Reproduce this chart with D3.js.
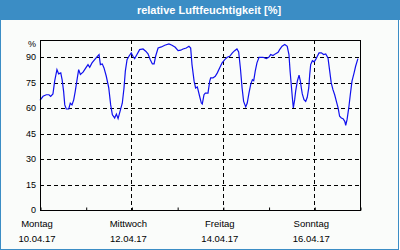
<!DOCTYPE html>
<html>
<head>
<meta charset="utf-8">
<script src="https://cdn.jsdelivr.net/npm/d3@7"></script>
<style>
  body { margin: 0; background: #fff; }
  svg { display: block; }
  text { font-family: "Liberation Sans", Arial, sans-serif; }
</style>
</head>
<body>
<div id="chart"></div>
<script>
// hours since Montag 10.04.17 00:00
var hours = [0, 1.6, 3.3, 4.7, 5.6, 6.8, 7.7, 8.9, 9.8, 10.9, 11.6, 12.4, 13.0, 13.8, 15.1, 15.9,
    16.8, 17.7, 18.5, 19.6, 20.3, 21.2, 22.6, 23.8, 25.2, 26.1, 27.3, 28.7, 29.9, 31.0, 31.7,
    32.7, 33.6, 34.8, 36.1, 37.1, 38.0, 39.2, 40.1, 41.0, 42.3, 43.2, 44.1, 44.8, 45.7, 46.7,
    47.9, 48.8, 49.7, 50.9, 52.3, 54.1, 55.5, 56.7, 57.9, 59.0, 59.9, 60.7, 62.0, 63.7, 65.5,
    67.7, 69.3, 71.0, 72.5, 73.9, 75.1, 76.8, 78.2, 79.1, 79.8, 80.9, 81.7, 82.6, 83.8, 84.7,
    85.2, 86.1, 86.8, 88.2, 89.1, 89.6, 90.8, 92.0, 93.1, 94.3, 95.6, 97.0, 98.3, 99.6, 101.0,
    102.2, 103.4, 104.3, 105.2, 106.1, 106.9, 108.0, 108.8, 109.7, 110.6, 111.5, 112.2, 113.0,
    113.9, 115.0, 117.1, 118.8, 120.1, 121.1, 122.3, 123.5, 125.0, 125.8, 127.1, 128.5, 129.8,
    130.7, 131.3, 131.9, 132.5, 133.0, 133.7, 134.2, 135.1, 136.0, 136.7, 137.2, 137.7, 138.6,
    139.5, 140.3, 141.1, 141.6, 142.1, 143.0, 143.9, 144.7, 145.6, 146.5, 147.7, 148.9, 150.0,
    151.2, 152.1, 152.9, 153.8, 154.7, 155.6, 156.5, 157.3, 158.2, 159.1, 160.0, 160.5, 161.2,
    162.1, 162.9, 163.8, 164.9, 165.7, 166.9];
var humidity = [64.7, 67.1, 68, 68, 67, 68.5, 76, 82.8, 80.3, 80.9, 76.9, 70, 62, 59.6, 59.6, 63,
    62, 65, 70, 77.9, 82.8, 79.9, 81.3, 83.4, 85.8, 84.2, 86.8, 88.7, 90.3, 91.7, 85.8,
    86.2, 83.8, 78.9, 72, 62, 56.2, 54.3, 56.6, 53.9, 59.4, 63, 72, 81.9, 88.7, 90.7,
    92.7, 90.7, 89.3, 91.7, 94.6, 95, 93.7, 92.1, 88.7, 86.2, 86.2, 90.7, 95.6, 96.2, 97.2,
    98, 97.2, 96, 94, 94.3, 95, 95.6, 96.6, 95.6, 85.8, 76, 72, 72.6, 67.1, 63.1,
    62.5, 68, 69, 69, 76, 77.9, 77.9, 78.9, 80.9, 83.8, 86.8, 88.7, 90.1, 90.7, 92.7,
    94, 95, 93.3, 83.8, 72, 64.1, 60.8, 63.1, 69, 74, 76.9, 76.3, 81.9,
    86.8, 90.1, 90.1, 89.3, 90.1, 91.7, 91.1, 92.1, 93, 94.6, 96.6, 97.6, 96.6,
    91.7, 81.9, 74, 66.1, 60.2, 65.1, 70, 76, 79.5, 76, 72, 68.5, 65.1,
    64.1, 66.5, 72, 79.9, 85.8, 88.1, 87.4, 88.7, 90.7, 92.7, 92.7, 91.7, 92.1,
    89.7, 81.9, 75, 71, 68, 64.1, 60.2, 55.3, 54.3, 53.9, 52.3, 50, 53.3,
    60.2, 68, 76, 80.9, 84.8, 89.3];
var yTicks = [0, 15, 30, 45, 60, 75, 90];
var dayNames = ['Montag', 'Mittwoch', 'Freitag', 'Sonntag'];
var dayDates = ['10.04.17', '12.04.17', '14.04.17', '16.04.17'];

var svgWidth = 400, svgHeight = 250;
var blue = '#3b8dc5';

var svg = d3.select('#chart').append('svg')
    .attr('width', svgWidth)
    .attr('height', svgHeight);

// panel + title bar
svg.append('rect')
    .attr('x', 0.5).attr('y', 0.5)
    .attr('width', 398).attr('height', 249)
    .attr('fill', '#fafcfa')
    .attr('stroke', blue);
svg.append('rect')
    .attr('x', 0).attr('y', 0)
    .attr('width', 400).attr('height', 20)
    .attr('fill', blue);
svg.append('text')
    .attr('x', 209).attr('y', 14)
    .attr('text-anchor', 'middle')
    .style('font-size', '11px')
    .style('font-weight', 'bold')
    .style('fill', '#fff')
    .text('relative Luftfeuchtigkeit [%]');

var start = new Date(2017, 3, 10);
var end = new Date(2017, 3, 17);

var x = d3.scaleTime().domain([start, end]).range([40, 360]);
var y = d3.scaleLinear().domain([0, 100]).range([210, 40.5]);

var data = hours.map(function(h, i) {
    return { t: new Date(start.getTime() + h * 3600000), v: humidity[i] };
});

// horizontal grid
svg.append('g').selectAll('line')
    .data(yTicks.filter(function(d) { return d > 0; }))
    .enter().append('line')
    .attr('x1', 40).attr('x2', 360)
    .attr('y1', function(d) { return Math.round(y(d)) + 0.5; })
    .attr('y2', function(d) { return Math.round(y(d)) + 0.5; })
    .attr('stroke', '#000')
    .attr('stroke-dasharray', '4,3');

// vertical grid on labelled days
var labelDays = d3.timeDay.range(start, end, 2);
svg.append('g').selectAll('line')
    .data(labelDays.slice(1))
    .enter().append('line')
    .attr('x1', function(d) { return Math.round(x(d)) + 0.5; })
    .attr('x2', function(d) { return Math.round(x(d)) + 0.5; })
    .attr('y1', 40).attr('y2', 210)
    .attr('stroke', '#000')
    .attr('stroke-dasharray', '4,3');

// line
var line = d3.line()
    .x(function(d) { return x(d.t); })
    .y(function(d) { return y(d.v); });
svg.append('path')
    .datum(data)
    .attr('d', line)
    .attr('fill', 'none')
    .attr('stroke', '#1010ee')
    .attr('stroke-width', 1.2);

// frame
svg.append('rect')
    .attr('x', 40.5).attr('y', 40.5)
    .attr('width', 320).attr('height', 170)
    .attr('fill', 'none')
    .attr('stroke', '#000');

// day ticks
var xAxis = d3.axisBottom(x).ticks(d3.timeDay.every(1)).tickSize(-3).tickFormat('');
svg.append('g')
    .attr('transform', 'translate(0.5,210.5)')
    .call(xAxis)
    .call(function(g) { g.select('.domain').remove(); });

// y labels
svg.append('g').selectAll('text')
    .data(yTicks)
    .enter().append('text')
    .attr('x', 36)
    .attr('y', function(d) { return y(d) + 3; })
    .attr('text-anchor', 'end')
    .style('font-size', '9px')
    .style('fill', '#000')
    .text(function(d) { return d; });
svg.append('text')
    .attr('x', 36).attr('y', 47)
    .attr('text-anchor', 'end')
    .style('font-size', '9px')
    .text('%');

// x labels
svg.append('g').selectAll('text')
    .data(labelDays)
    .enter().append('text')
    .attr('x', function(d) { return x(d) - 3; })
    .attr('y', 227)
    .attr('text-anchor', 'middle')
    .style('font-size', '9.5px')
    .text(function(d, i) { return dayNames[i]; });
svg.append('g').selectAll('text')
    .data(labelDays)
    .enter().append('text')
    .attr('x', function(d) { return x(d) - 3; })
    .attr('y', 241.5)
    .attr('text-anchor', 'middle')
    .style('font-size', '9.5px')
    .text(function(d, i) { return dayDates[i]; });
</script>
</body>
</html>
